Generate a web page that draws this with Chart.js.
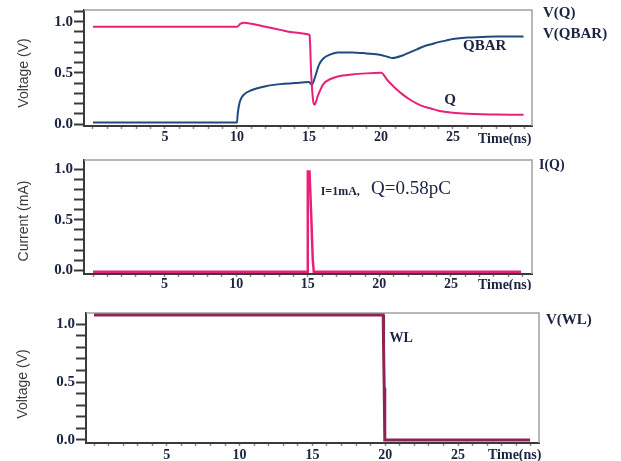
<!DOCTYPE html>
<html><head><meta charset="utf-8">
<script src="https://cdn.jsdelivr.net/npm/chart.js@4"></script>
<style>
body{margin:0;background:#fff;width:621px;height:461px;overflow:hidden;position:relative}
canvas{position:absolute;left:0}
</style></head>
<body>
<canvas id="c1" width="621" height="150" style="top:0px"></canvas>
<canvas id="c2" width="621" height="140" style="top:150px"></canvas>
<canvas id="c3" width="621" height="161" style="top:300px"></canvas>
<script>
// ---- data (time in ns) ----
const timeQ = [0, 10, 10.1, 10.25, 10.5, 11, 12, 13, 14, 15, 15.05, 15.15, 15.3, 15.4, 15.6, 16, 16.5, 17, 18, 19, 20, 20.5, 21, 21.5, 22, 22.5, 23, 23.5, 24, 25, 26, 27, 28, 29, 29.9];
const valQ  = [0.95, 0.95, 0.96, 0.98, 0.99, 0.98, 0.95, 0.92, 0.895, 0.875, 0.86, 0.5, 0.22, 0.19, 0.27, 0.39, 0.44, 0.465, 0.485, 0.495, 0.50, 0.42, 0.35, 0.29, 0.24, 0.20, 0.17, 0.15, 0.13, 0.11, 0.10, 0.095, 0.093, 0.092, 0.092];
const timeQB = [0, 10, 10.05, 10.2, 10.5, 11, 12, 13, 14, 15, 15.2, 15.4, 15.7, 16, 16.5, 17, 18, 19, 20, 20.5, 20.8, 21.5, 22, 22.5, 23, 23.5, 24, 24.5, 25, 26, 27, 28, 29, 29.9];
const valQB  = [0.015, 0.015, 0.1, 0.22, 0.29, 0.33, 0.37, 0.39, 0.40, 0.41, 0.385, 0.45, 0.58, 0.64, 0.68, 0.70, 0.70, 0.69, 0.675, 0.655, 0.645, 0.67, 0.70, 0.73, 0.76, 0.78, 0.80, 0.815, 0.83, 0.845, 0.85, 0.855, 0.855, 0.855];
const timeI = [0, 14.97, 15.0, 15.12, 15.17, 15.25, 15.35, 15.42, 29.9];
const valI  = [-0.016, -0.016, 0.98, 0.98, 0.8, 0.5, 0.1, -0.016, -0.016];
const timeWL = [0, 19.86, 19.87, 19.9, 19.93, 19.97, 29.95];
const valWL  = [1.078, 1.078, 0.8, 0.8, 0.45, 0.0, 0.0];
const xTickLabels = [5, 10, 15, 20, 25];
const yTickLabels = [0.0, 0.5, 1.0];

const pts = (t, v) => t.map((x, i) => ({x: x, y: v[i]}));
const PINK = '#e8207a', NAVY = '#1f4a7f', MAROON = '#8c2455', TXT = '#1b2440';
const SERIF = '"Liberation Serif", "Times New Roman", serif';

function decor(texts, ytitle) {
  return {
    id: 'decor',
    beforeDatasetsDraw(chart) {
      const {ctx, chartArea: a} = chart;
      ctx.save();
      ctx.strokeStyle = '#a0a0a0';
      ctx.lineWidth = 1.5;
      ctx.beginPath();
      ctx.moveTo(a.left, a.top); ctx.lineTo(a.right, a.top); ctx.lineTo(a.right, a.bottom);
      ctx.stroke();
      ctx.restore();
    },
    afterDraw(chart) {
      const {ctx, scales} = chart;
      ctx.save();
      ctx.fillStyle = TXT;
      ctx.textBaseline = 'middle';
      ctx.textAlign = 'left';
      texts.forEach(t => {
        ctx.font = t.font;
        let x = t.x, y = t.y;
        if (t.data) { x = scales.x.getPixelForValue(t.x); y = scales.y.getPixelForValue(t.y); }
        ctx.fillText(t.text, x, y);
      });
      ctx.translate(ytitle.x, ytitle.y);
      ctx.rotate(-Math.PI / 2);
      ctx.textAlign = 'center';
      ctx.fillStyle = '#3a3a3a';
      ctx.font = '14px "Liberation Sans", Arial, sans-serif';
      ctx.fillText(ytitle.text, 0, 0);
      ctx.restore();
    }
  };
}

function makeChart(id, p) {
  const yVals = [];
  for (let i = 0; i <= p.yTop; i++) yVals.push(i / 10);
  const xVals = [];
  for (let i = 0; i <= 30; i++) xVals.push(i);
  return new Chart(document.getElementById(id), {
    type: 'line',
    data: {datasets: p.datasets},
    options: {
      responsive: false, animation: false, devicePixelRatio: 1,
      layout: {padding: {left: 0, top: p.padTop, right: p.padRight, bottom: 0}},
      plugins: {legend: {display: false}, tooltip: {enabled: false}},
      elements: {point: {radius: 0}},
      scales: {
        x: {
          type: 'linear', min: p.xmin, max: p.xmax,
          afterBuildTicks: s => { s.ticks = xVals.map(v => ({value: v})); },
          afterFit: s => { s.height = p.xh; },
          grid: {drawOnChartArea: false, tickLength: 3, tickColor: '#888', tickWidth: 1.5},
          border: {display: true, color: '#3a3a3a', width: 2},
          ticks: {
            autoSkip: false, maxRotation: 0, padding: p.xpad, color: TXT,
            font: {family: SERIF, size: 14, weight: 'bold'},
            callback: v => xTickLabels.includes(v) ? String(v) : ''
          }
        },
        y: {
          type: 'linear', min: p.ymin, max: p.ymax,
          afterBuildTicks: s => { s.ticks = yVals.map(v => ({value: v})); },
          afterFit: s => { s.width = p.yw; },
          grid: {drawOnChartArea: false, tickLength: 10, tickColor: '#3a3a3a', tickWidth: 2},
          border: {display: true, color: '#3a3a3a', width: 2},
          ticks: {
            autoSkip: false, padding: 1, color: TXT,
            font: {family: SERIF, size: 15, weight: 'bold'},
            callback: v => yTickLabels.some(m => Math.abs(m - v) < 1e-6) ? v.toFixed(1) : ''
          }
        }
      }
    },
    plugins: [decor(p.texts, p.ytitle)]
  });
}

const B15 = 'bold 15px ' + SERIF, B14 = 'bold 14px ' + SERIF;

makeChart('c1', {
  padTop: 7, padRight: 89, yw: 84, xh: 24, xpad: 0,
  xmin: -0.625, xmax: 30.49, ymin: -0.019, ymax: 1.114, yTop: 11,
  datasets: [
    {data: pts(timeQ, valQ), borderColor: PINK, borderWidth: 2, tension: 0, cubicInterpolationMode: 'monotone'},
    {data: pts(timeQB, valQB), borderColor: NAVY, borderWidth: 2, tension: 0, cubicInterpolationMode: 'monotone'}
  ],
  texts: [
    {text: 'V(Q)', font: B15, x: 543, y: 13},
    {text: 'V(QBAR)', font: B15, x: 543, y: 34},
    {text: 'QBAR', font: B15, data: true, x: 25.7, y: 0.76},
    {text: 'Q', font: B15, data: true, x: 24.4, y: 0.23},
    {text: 'Time(ns)', font: B14, x: 478, y: 139}
  ],
  ytitle: {text: 'Voltage (V)', x: 24, y: 73}
});

makeChart('c2', {
  padTop: 5, padRight: 89, yw: 84, xh: 16, xpad: -1,
  xmin: -0.63, xmax: 30.66, ymin: -0.038, ymax: 1.095, yTop: 10,
  datasets: [
    {data: pts(timeI, valI), borderColor: PINK, borderWidth: 2.5, tension: 0}
  ],
  texts: [
    {text: 'I(Q)', font: B14, x: 539, y: 15},
    {text: 'I=1mA,', font: 'bold 12px ' + SERIF, data: true, x: 15.9, y: 0.78},
    {text: 'Q=0.58pC', font: '19px ' + SERIF, x: 371, y: 39},
    {text: 'Time(ns)', font: B14, x: 478, y: 135}
  ],
  ytitle: {text: 'Current (mA)', x: 24, y: 71}
});

makeChart('c3', {
  padTop: 13, padRight: 82, yw: 86, xh: 18, xpad: 1,
  xmin: -0.55, xmax: 30.56, ymin: -0.026, ymax: 1.095, yTop: 10,
  datasets: [
    {data: pts(timeWL, valWL), borderColor: MAROON, borderWidth: 3, tension: 0}
  ],
  texts: [
    {text: 'V(WL)', font: B15, x: 546, y: 20},
    {text: 'WL', font: B14, data: true, x: 20.3, y: 0.88},
    {text: 'Time(ns)', font: B14, x: 488, y: 155}
  ],
  ytitle: {text: 'Voltage (V)', x: 23, y: 84}
});
</script>
</body></html>
